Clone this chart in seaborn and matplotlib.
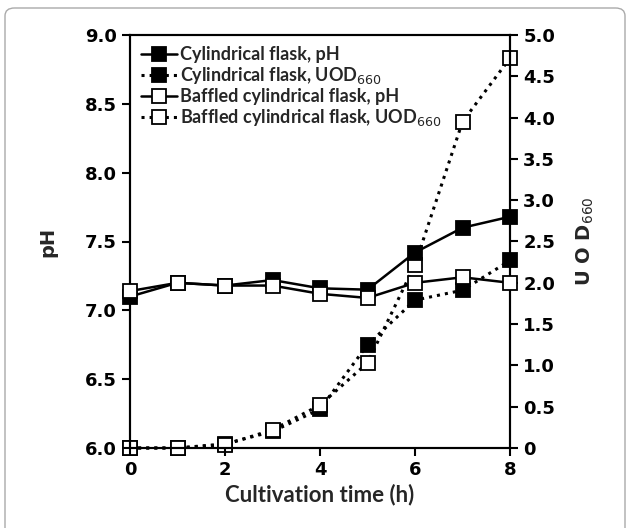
import matplotlib
matplotlib.use("Agg")
import matplotlib.pyplot as plt
import seaborn as sns
import numpy as np
from matplotlib.patches import FancyBboxPatch

sns.set_style("white")
plt.rcParams['font.family'] = ['DejaVu Sans']

time_h = [0, 1, 2, 3, 4, 5, 6, 7, 8]
cyl_ph = [7.10, 7.20, 7.18, 7.22, 7.16, 7.15, 7.42, 7.60, 7.68]
cyl_uod = [0.0, 0.0, 0.05, 0.20, 0.47, 1.25, 1.79, 1.91, 2.27]
baf_ph = [7.14, 7.20, 7.18, 7.18, 7.12, 7.09, 7.20, 7.24, 7.20]
baf_uod = [0.0, 0.0, 0.04, 0.22, 0.52, 1.03, 2.22, 3.95, 4.72]

labels = ["Cylindrical flask, pH", "Cylindrical flask, UOD$_{660}$",
          "Baffled cylindrical flask, pH", "Baffled cylindrical flask, UOD$_{660}$"]

fig = plt.figure(figsize=(6.3, 5.28), dpi=100)
ax = fig.add_axes([130/630, 80/528, 380/630, 413/528])
ax2 = ax.twinx()

ms = 9.5
common = dict(marker='s', markersize=ms, markeredgecolor='black', markeredgewidth=1.3,
              color='black', clip_on=False)

sns.lineplot(x=time_h, y=cyl_ph, ax=ax, linestyle='-', linewidth=1.8, markerfacecolor='black', label=labels[0], zorder=3, **common)
sns.lineplot(x=time_h, y=baf_ph, ax=ax, linestyle='-', linewidth=1.8, markerfacecolor='white', label=labels[2], zorder=3, **common)
sns.lineplot(x=time_h, y=cyl_uod, ax=ax2, linestyle=':', linewidth=2.2, markerfacecolor='black', label=labels[1], zorder=2, **common)
sns.lineplot(x=time_h, y=baf_uod, ax=ax2, linestyle=':', linewidth=2.2, markerfacecolor='white', label=labels[3], zorder=2, **common)

ax.set_xlim(0, 8)
ax.set_ylim(6.0, 9.0)
ax2.set_ylim(0, 5.0)
ax.set_xticks([0, 2, 4, 6, 8])
ax.set_yticks(np.arange(6.0, 9.01, 0.5))
ax.set_yticklabels([f"{v:.1f}" for v in np.arange(6.0, 9.01, 0.5)])
ax2.set_yticks(np.arange(0, 5.01, 0.5))
ax2.set_yticklabels(["0"] + [f"{v:.1f}" for v in np.arange(0.5, 5.01, 0.5)])

for a in (ax, ax2):
    for s in a.spines.values():
        s.set_color('black')
        s.set_linewidth(1.5)
    a.tick_params(direction='out', length=6, width=1.5, colors='black', labelsize=13)
    for t in a.get_xticklabels() + a.get_yticklabels():
        t.set_fontweight('bold')
ax.tick_params(axis='y', left=True)
ax.tick_params(axis='x', bottom=True)
ax2.tick_params(axis='y', right=True)

ax.set_xlabel("Cultivation time (h)", fontsize=16, fontweight='bold', family='Lato', labelpad=3)
ax.set_ylabel("pH", fontsize=14, fontweight='bold', labelpad=20)
ax2.set_ylabel("U O D$_{660}$", fontsize=14, fontweight='bold', labelpad=14, rotation=90)

ax2.set_zorder(ax.get_zorder() - 1)
ax.patch.set_visible(False)

h1, l1 = ax.get_legend_handles_labels()
h2, l2 = ax2.get_legend_handles_labels()
if ax2.get_legend():
    ax2.get_legend().remove()
handles = [h1[0], h2[0], h1[1], h2[1]]
labs = [l1[0], l2[0], l1[1], l2[1]]
leg = ax.legend(handles, labs, loc='upper left', frameon=False,
                prop={'family': 'Lato', 'weight': 'bold', 'size': 13},
                handlelength=2.0, handletextpad=0.15, labelspacing=0.12,
                borderaxespad=0.2, bbox_to_anchor=(0.0, 1.0))

border = FancyBboxPatch((5/630, -0.05), 620/630, (528-8)/528 + 0.05,
                        boxstyle="round,pad=0,rounding_size=0.015",
                        transform=fig.transFigure, fill=False, edgecolor='#aaaaaa', linewidth=1.0)
fig.patches.append(border)

fig.savefig("out.png", dpi=100)
